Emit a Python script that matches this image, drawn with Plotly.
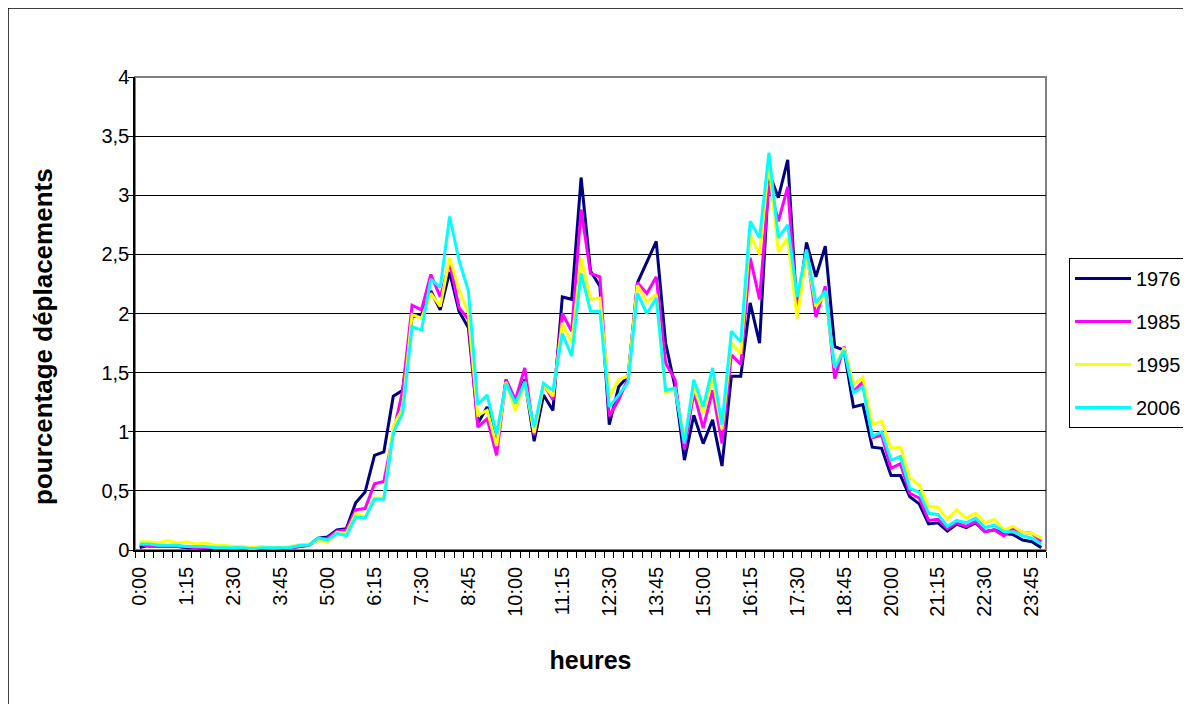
import plotly.graph_objects as go

# heures (quarts d'heure de 0:00 a 24:00)
heures = ["%d:%02d" % (q // 4, (q % 4) * 15) for q in range(97)]
labels_affiches = [h if i % 5 == 0 and i < 96 else "" for i, h in enumerate(heures)]

annees = ["1976", "1985", "1995", "2006"]

v1976 = [0.02, 0.04, 0.03, 0.03, 0.03, 0.02, 0.02, 0.01, 0.01, 0.01,
         0.01, 0.01, 0.01, 0.01, 0.01, 0.01, 0.02, 0.03, 0.04, 0.10,
         0.11, 0.17, 0.18, 0.40, 0.49, 0.80, 0.83, 1.30, 1.35, 1.97,
         1.99, 2.19, 2.03, 2.35, 2.02, 1.88, 1.07, 1.21, 0.88, 1.44,
         1.26, 1.44, 0.92, 1.31, 1.18, 2.14, 2.12, 3.15, 2.36, 2.23,
         1.06, 1.38, 1.47, 2.26, 2.43, 2.61, 1.75, 1.38, 0.76, 1.14,
         0.90, 1.10, 0.71, 1.47, 1.47, 2.09, 1.75, 3.19, 2.98, 3.30,
         2.00, 2.60, 2.31, 2.57, 1.72, 1.69, 1.21, 1.23, 0.87, 0.86,
         0.63, 0.63, 0.45, 0.39, 0.22, 0.23, 0.16, 0.22, 0.19, 0.23,
         0.155, 0.17, 0.14, 0.13, 0.085, 0.07, 0.02]

v1985 = [0.05, 0.03, 0.03, 0.03, 0.03, 0.03, 0.02, 0.02, 0.02, 0.02,
         0.01, 0.02, 0.02, 0.02, 0.01, 0.02, 0.02, 0.03, 0.04, 0.09,
         0.10, 0.16, 0.17, 0.34, 0.35, 0.56, 0.58, 0.99, 1.35, 2.07,
         2.03, 2.33, 2.14, 2.43, 2.05, 1.95, 1.04, 1.11, 0.80, 1.44,
         1.27, 1.54, 0.97, 1.40, 1.27, 2.00, 1.85, 2.88, 2.34, 2.31,
         1.13, 1.27, 1.45, 2.26, 2.17, 2.31, 1.58, 1.44, 0.85, 1.33,
         1.03, 1.35, 0.90, 1.65, 1.57, 2.47, 2.12, 3.10, 2.78, 3.07,
         2.00, 2.54, 1.97, 2.23, 1.45, 1.72, 1.34, 1.42, 0.95, 0.97,
         0.69, 0.73, 0.48, 0.44, 0.25, 0.26, 0.18, 0.23, 0.20, 0.24,
         0.155, 0.17, 0.12, 0.18, 0.15, 0.14, 0.07]

v1995 = [0.07, 0.07, 0.06, 0.08, 0.06, 0.07, 0.05, 0.06, 0.04, 0.04,
         0.03, 0.03, 0.02, 0.03, 0.02, 0.02, 0.03, 0.04, 0.05, 0.08,
         0.07, 0.15, 0.14, 0.31, 0.28, 0.44, 0.44, 1.05, 1.20, 1.99,
         1.96, 2.17, 2.06, 2.47, 2.20, 2.00, 1.14, 1.18, 0.88, 1.42,
         1.18, 1.42, 0.99, 1.39, 1.30, 1.92, 1.75, 2.47, 2.12, 2.13,
         1.30, 1.44, 1.47, 2.24, 2.10, 2.16, 1.33, 1.36, 0.94, 1.37,
         1.16, 1.45, 1.02, 1.75, 1.66, 2.67, 2.50, 3.27, 2.52, 2.64,
         1.96, 2.50, 2.06, 2.16, 1.55, 1.71, 1.40, 1.46, 1.06, 1.09,
         0.86, 0.87, 0.61, 0.55, 0.37, 0.36, 0.26, 0.34, 0.27, 0.31,
         0.23, 0.26, 0.17, 0.20, 0.15, 0.14, 0.10]

v2006 = [0.05, 0.05, 0.04, 0.04, 0.04, 0.03, 0.03, 0.03, 0.02, 0.02,
         0.02, 0.02, 0.01, 0.02, 0.02, 0.02, 0.02, 0.04, 0.04, 0.10,
         0.085, 0.14, 0.12, 0.28, 0.27, 0.43, 0.43, 0.99, 1.16, 1.89,
         1.86, 2.29, 2.22, 2.82, 2.45, 2.19, 1.23, 1.31, 0.98, 1.41,
         1.24, 1.42, 1.04, 1.41, 1.35, 1.83, 1.64, 2.34, 2.02, 2.02,
         1.21, 1.31, 1.42, 2.17, 2.00, 2.13, 1.35, 1.37, 0.90, 1.44,
         1.21, 1.54, 1.06, 1.85, 1.76, 2.78, 2.64, 3.36, 2.64, 2.75,
         2.14, 2.54, 2.09, 2.19, 1.54, 1.69, 1.33, 1.38, 0.96, 1.00,
         0.76, 0.79, 0.52, 0.49, 0.31, 0.30, 0.20, 0.25, 0.23, 0.27,
         0.19, 0.21, 0.155, 0.155, 0.12, 0.10, 0.05]

series = [v1976, v1985, v1995, v2006]
couleurs = ["#000080", "#FF00FF", "#FFFF00", "#00FFFF"]

police = "Liberation Sans, Arial, sans-serif"

fig = go.Figure()
for annee, valeurs, couleur in zip(annees, series, couleurs):
    fig.add_trace(go.Scatter(x=heures, y=valeurs, name=annee, legendgroup=annee,
                             mode="lines", line=dict(color=couleur, width=3)))

# cadre exterieur + bordure grise de la zone de tracé
fig.add_shape(type="rect", xref="paper", yref="paper",
              x0=(8 - 135) / 911, x1=(1210 - 135) / 911,
              y0=(550 - 720) / 473, y1=(550 - 8) / 473,
              line=dict(color="black", width=1.5), layer="below")
fig.add_shape(type="rect", xref="paper", yref="paper", x0=0, x1=1, y0=0, y1=1,
              line=dict(color="#808080", width=2), layer="below")

# titre de l'axe vertical (placé comme dans Excel, un peu sous le centre)
fig.add_annotation(text="<b>pourcentage déplacements</b>", xref="paper", yref="paper",
                   x=(43 - 135) / 911, y=(550 - 337) / 473, textangle=-90,
                   showarrow=False, xanchor="center", yanchor="middle",
                   font=dict(size=26, family=police, color="black"))

# la page html ajoute une marge de 8 px autour de la figure
fig.update_layout(
    width=1191, height=704,
    margin=dict(l=127, r=153, t=69, b=162, autoexpand=False),
    paper_bgcolor="white", plot_bgcolor="white",
    separators=", ",
    font=dict(family=police, size=20, color="black"),
    showlegend=True,
    legend=dict(x=(1069 - 135) / 911, y=(550 - 258) / 473, xanchor="left", yanchor="top",
                bgcolor="white", bordercolor="black", borderwidth=1, itemwidth=56,
                font=dict(size=20), tracegroupgap=14, traceorder="grouped"),
    xaxis=dict(type="category", tickmode="array", tickvals=heures, ticktext=labels_affiches,
               tickangle=-90, tickson="boundaries", ticks="outside", ticklen=6,
               ticklabelstandoff=7,
               tickcolor="black", showline=True, linecolor="black", linewidth=1.5,
               showgrid=False, range=[-0.5, 96.5],
               title=dict(text="heures", font=dict(size=25, weight="bold"), standoff=36)),
    yaxis=dict(range=[0, 4], dtick=0.5, ticks="outside", ticklen=5, tickcolor="black",
               ticklabelstandoff=-5,
               showline=True, linecolor="black", linewidth=1.5,
               showgrid=True, gridcolor="black", gridwidth=1, zeroline=False),
)

fig.write_html("out.html")
